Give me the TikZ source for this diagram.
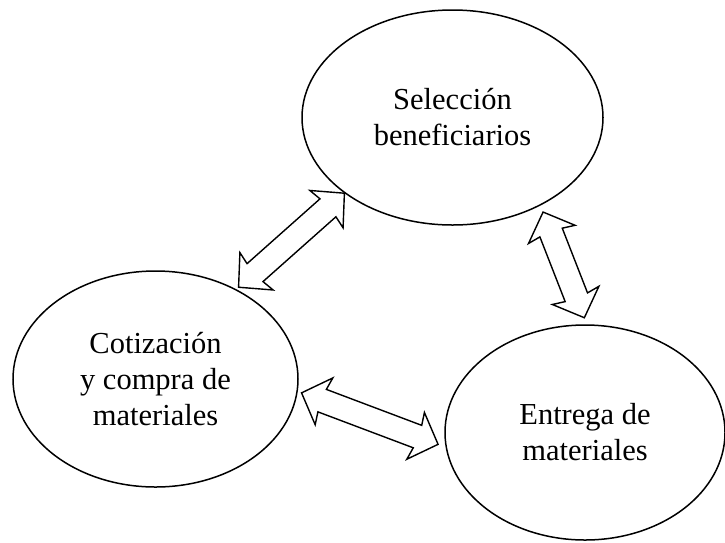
\documentclass[tikz,border=0pt]{standalone}
\usepackage{fontspec}
\setmainfont{Liberation Serif}
\usepackage{tikz}
\usetikzlibrary{shapes.geometric,calc}

\newcommand{\cabeza}{22}
\newcommand{\ancho}{25}
\newcommand{\asta}{12}
\newcommand{\flechadoble}[2]{%
	\draw[flecha] let \p1=($(#2)-(#1)$), \n1={atan2(\y1,\x1)}, \n2={veclen(\x1,\y1)} in
		[shift={(#1)}, rotate=\n1]
		(0,0) -- (\cabeza+2,\ancho) -- (\cabeza,\asta) -- (\n2-\cabeza,\asta) -- (\n2-\cabeza-2,\ancho) -- (\n2,0)
		-- (\n2-\cabeza-2,-\ancho) -- (\n2-\cabeza,-\asta) -- (\cabeza,-\asta) -- (\cabeza+2,-\ancho) -- cycle;%
}

\begin{document}
\begin{tikzpicture}[x=1pt, y=-1pt,
		elipse/.style={ellipse, draw, line width=1.5pt, inner sep=0pt, align=center, font=\fontsize{30.5}{36}\selectfont},
		flecha/.style={draw, fill=white, line width=1.4pt, line join=miter}]
	\useasboundingbox (0,0) rectangle (725,542);
	\node[elipse, minimum width=301pt, minimum height=215pt] (sel) at (452.5,117.5) {Selección\\beneficiarios};
	\node[elipse, minimum width=285pt, minimum height=216pt] (cot) at (155.5,379) {Cotización\\y compra de\\materiales};
	\node[elipse, minimum width=280pt, minimum height=215pt] (ent) at (585,432.5) {Entrega de\\materiales};
	\coordinate (f1a) at ($(cot.48)!3pt!(sel.215)$);
	\coordinate (f1b) at (sel.215);
	\coordinate (f2a) at ($(cot.-5)!4pt!(ent.186)$);
	\coordinate (f2b) at ($(ent.186)!8pt!(cot.-5)$);
	\coordinate (f3a) at ($(sel.-45)!7pt!(ent.89)$);
	\coordinate (f3b) at ($(ent.89)!7pt!(sel.-45)$);
	\flechadoble{f1a}{f1b}
	\flechadoble{f2a}{f2b}
	\flechadoble{f3a}{f3b}
\end{tikzpicture}
\end{document}
